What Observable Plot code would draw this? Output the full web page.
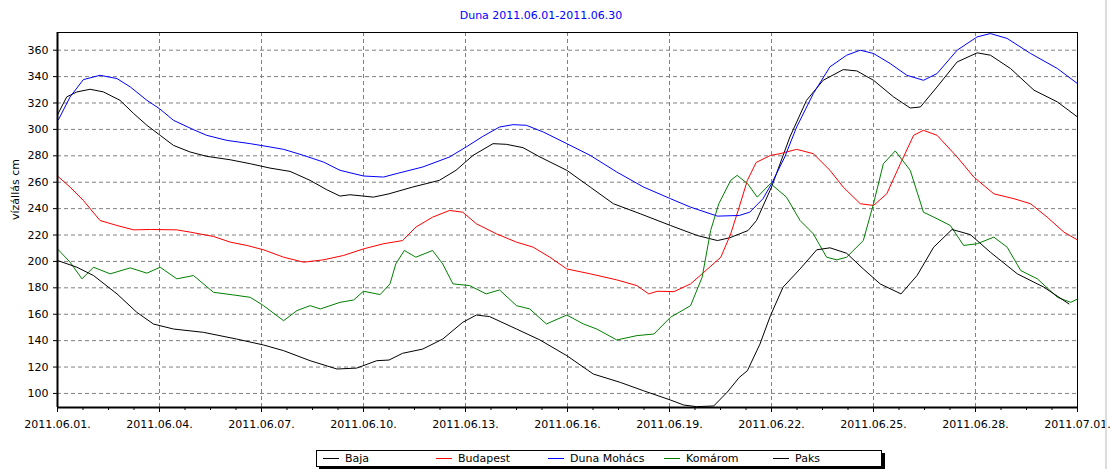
<!DOCTYPE html>
<html><head><meta charset="utf-8">
<script src="https://cdn.jsdelivr.net/npm/d3@7"></script>
<script src="https://cdn.jsdelivr.net/npm/@observablehq/plot@0.6"></script>
<style>
body{margin:0;background:#fff;font-family:"DejaVu Sans",sans-serif;font-size:11px;width:1111px;height:469px;overflow:hidden;position:relative}
#title{box-sizing:border-box;height:24px;width:1082px;padding-top:9px;line-height:13px;text-align:center;color:#0000ff}
#chart svg{display:block}
#legend{position:absolute;left:316px;top:450px;width:566px;height:17px;box-sizing:border-box;border:1px solid #000;box-shadow:3px 3px 0 #000;background:#fff}
.sw{position:absolute;top:7px;width:16px;height:0;border-top-width:1px;border-top-style:solid}
.lt{position:absolute;top:0;line-height:15px;color:#000;white-space:nowrap}
#edge{position:absolute;left:1105px;top:0;width:2px;height:469px;background:#dcdcdc}
</style></head><body>
<div id="title">Duna 2011.06.01-2011.06.30</div>
<div id="chart"></div>
<div id="legend"></div>
<div id="edge"></div>
<script>
// ---- data: [day offset from 2011-06-01 00:00, water level cm] ----
const seriesNames = ["Baja", "Budapest", "Duna Mohács", "Komárom", "Paks"];
const seriesColors = ["#000000", "#ff0000", "#0000ff", "#008000", "#000000"];

const baja = [[0,311],[0.27,324.6],[0.57,328.4],[0.96,330.4],[1.35,328.4],[1.84,322],[2.24,312],[2.63,303.1],[3.02,295.5],[3.41,287.9],[3.9,282.9],[4.39,279.6],[5.08,277],[5.67,274],[6.25,270.7],[6.84,268.2],[7.43,261.4],[7.92,254.3],[8.31,249.5],[8.6,250.5],[9.0,249.5],[9.29,248.7],[9.75,251.2],[10.44,256.3],[11.23,261.4],[11.72,269],[12.22,280.3],[12.81,289.2],[13.2,288.7],[13.69,286.2],[14.19,279.1],[14.98,269],[15.67,256.3],[16.35,243.7],[17.14,236.1],[18.03,227.2],[18.82,219.6],[19.41,215.8],[19.77,217.9],[20.31,223.4],[20.56,231],[21.0,256.3],[21.54,294.2],[22.03,322],[22.52,337.2],[23.11,345.3],[23.51,344.3],[24.0,337.2],[24.59,324.6],[25.08,316.2],[25.38,317],[25.87,332.2],[26.46,351.1],[27.05,358],[27.44,356.2],[28.03,346.1],[28.72,329.7],[29.41,320.8],[30.0,309.4]];

const budapest = [[0,264.7],[0.37,256.3],[0.76,246.2],[1.25,231],[1.75,227.2],[2.24,223.9],[2.73,224.2],[3.51,223.9],[3.9,222.2],[4.59,218.9],[5.08,214.6],[5.57,212.1],[6.06,208.8],[6.65,203.2],[7.24,199.4],[7.82,201.2],[8.41,204.5],[9.0,209.5],[9.59,213.4],[10.15,215.8],[10.54,226],[11.03,233.5],[11.53,238.6],[11.92,237.3],[12.32,228.5],[12.91,220.9],[13.5,214.6],[13.99,210.8],[14.48,203.2],[14.98,194.3],[15.67,190.6],[16.45,186],[17.04,181.7],[17.39,175.4],[17.64,177.4],[18.13,177.1],[18.62,183],[18.95,190.4],[19.51,203.2],[19.8,220.9],[20.05,241.1],[20.29,261.4],[20.55,275],[20.97,280.3],[21.25,281.6],[21.74,284.9],[22.23,281.6],[22.72,269],[23.11,256.3],[23.61,243.7],[24.0,242.4],[24.39,251.2],[24.79,274],[25.18,295.5],[25.47,299.3],[25.87,295.5],[26.46,279.1],[26.95,263.9],[27.54,251.2],[28.13,247.5],[28.62,243.7],[29.11,233.5],[29.6,222.2],[30.0,216.3]];

const mohacs = [[0.03,307.4],[0.37,324.6],[0.76,337.7],[1.25,341],[1.75,338.5],[2.14,332.2],[2.63,322],[3.0,315.7],[3.41,306.9],[4.0,299.8],[4.39,295.5],[4.98,291.7],[5.67,289.2],[6.25,286.7],[6.65,284.9],[7.24,280.3],[7.82,275.3],[8.31,269],[9.0,264.7],[9.59,263.9],[10.03,266.9],[10.74,271.5],[11.53,279.1],[12.02,286.7],[12.51,294.7],[13.0,301.8],[13.4,303.6],[13.79,303.1],[14.29,298],[14.98,289.2],[15.67,280.3],[16.45,267.7],[17.24,256.3],[18.03,247.5],[18.62,241.1],[19.41,234.3],[20.05,234.8],[20.36,237.3],[20.75,247.5],[21.0,258.8],[21.39,279.1],[21.74,301.8],[22.23,327.1],[22.72,347.4],[23.21,356.2],[23.61,360],[24.0,357.5],[24.49,349.9],[24.98,341],[25.47,337.2],[25.87,342.3],[26.46,360],[27.05,370.1],[27.44,372.6],[27.93,368.9],[28.62,357.5],[29.41,346.1],[30.0,334.7]];

const komarom = [[0,209.5],[0.37,199.4],[0.72,186.8],[1.06,195.6],[1.55,190.6],[2.14,195.1],[2.63,191.1],[3.02,195.6],[3.51,186.8],[4.0,189.3],[4.59,176.6],[5.18,174.6],[5.67,172.8],[6.06,166.5],[6.65,155.1],[7.04,162.7],[7.43,166.5],[7.73,164],[8.31,169],[8.71,170.8],[9.0,177.4],[9.49,174.9],[9.78,183],[9.95,198.1],[10.2,208.3],[10.54,203.2],[11.03,208.3],[11.33,198.1],[11.63,183],[12.12,181.7],[12.61,175.4],[13.0,178.4],[13.5,166.5],[13.89,164],[14.38,152.6],[14.98,159.4],[15.47,152.6],[15.86,148.8],[16.45,140.5],[17.04,143.8],[17.54,145],[18.03,157.7],[18.62,166.5],[18.96,188],[19.21,223.4],[19.45,243.7],[19.8,261.4],[19.99,265.2],[20.3,258.8],[20.58,248.7],[20.97,259],[21.44,248.7],[21.84,231],[22.23,220.9],[22.62,203.2],[22.92,201.2],[23.21,203.2],[23.7,215.8],[24.0,243.7],[24.29,274],[24.64,283.7],[25.08,269],[25.47,237.3],[25.87,232.3],[26.26,227.2],[26.65,212.1],[27.05,213.4],[27.54,218.4],[27.93,210.8],[28.33,193.1],[28.82,186.8],[29.41,172.8],[29.8,169],[30.0,171.5]];

const paks = [[0,200.7],[0.57,195.6],[1.06,189.3],[1.75,175.4],[2.33,161.5],[2.82,152.6],[3.41,148.8],[4.29,146.3],[5.27,141.2],[6.06,136.7],[6.65,132.4],[7.43,124.8],[8.22,118.5],[8.8,119.2],[9.39,124.8],[9.75,125.3],[10.15,130.4],[10.74,133.6],[11.33,141.2],[11.92,153.9],[12.32,159.4],[12.71,158.2],[13.5,148.8],[14.19,140.5],[14.98,128.6],[15.76,114.7],[16.55,108.4],[17.24,102],[18.03,95],[18.42,91.2],[18.8,90],[19.3,90.5],[19.7,101],[20.05,112.1],[20.29,117.2],[20.66,137.4],[20.97,159],[21.34,180.5],[21.84,194.3],[22.33,208.8],[22.72,210.3],[23.21,206.2],[23.7,194.3],[24.2,182.9],[24.81,175.4],[25.28,189.3],[25.77,210.8],[26.31,224.2],[26.85,220.3],[27.44,206.9],[28.23,190.6],[29.01,180.5],[29.75,167.8]];

const xTickDays = [0, 3, 6, 9, 12, 15, 18, 21, 24, 27, 30];
const yTicks = [100, 120, 140, 160, 180, 200, 220, 240, 260, 280, 300, 320, 340, 360];
const yLabel = "vízállás cm";
const yDomain = [89.35, 373.4];

// ---- build ----
const start = Date.UTC(2011, 5, 1);
const toDate = d => new Date(start + d * 864e5);
const seriesData = [baja, budapest, mohacs, komarom, paks];
const rows = seriesData.flatMap((pts, i) => pts.map(([d, v]) => ({name: seriesNames[i], date: toDate(d), value: v})));
const majorTicks = xTickDays.map(toDate);
const minorTicks = d3.range(0, 30.001, 0.75).map(toDate);
const grid = {stroke: "#808080", strokeOpacity: 1, strokeDasharray: "4,3", strokeWidth: 1};

const chart = Plot.plot({
  width: 1111, height: 416,
  marginTop: 8, marginBottom: 33, marginLeft: 57, marginRight: 34,
  style: {fontFamily: "DejaVu Sans", fontSize: "11px", color: "#000", background: "transparent", overflow: "visible"},
  x: {type: "utc", domain: [toDate(0), toDate(30)]},
  y: {domain: yDomain},
  color: {domain: seriesNames, range: seriesColors},
  marks: [
    Plot.gridX(majorTicks, grid),
    Plot.gridY(yTicks, grid),
    Plot.line(rows, {x: "date", y: "value", z: "name", stroke: "name", strokeWidth: 1, clip: true}),
    Plot.frame({stroke: "#000"}),
    Plot.axisX(minorTicks, {tickSize: 3, tickFormat: () => "", label: null}),
    Plot.axisX(majorTicks, {tickSize: 5, tickPadding: 8, tickFormat: d3.utcFormat("%Y.%m.%d."), label: null}),
    Plot.axisY(yTicks, {tickSize: 4, tickPadding: 5, label: null}),
    Plot.ruleX([toDate(0)], {stroke: "#000", strokeWidth: 2}),
    Plot.ruleY([yDomain[0]], {stroke: "#000", strokeWidth: 2}),
    Plot.text([yLabel], {frameAnchor: "left", dx: -42, rotate: -90, fill: "#000"})
  ]
});
document.getElementById("chart").appendChild(chart);

// ---- legend ----
const legendSwatchX = [6, 119, 231, 347, 456];
const legend = document.getElementById("legend");
seriesNames.forEach((n, i) => {
  const sw = document.createElement("div");
  sw.className = "sw";
  sw.style.left = legendSwatchX[i] + "px";
  sw.style.borderTopColor = seriesColors[i];
  legend.appendChild(sw);
  const t = document.createElement("div");
  t.className = "lt";
  t.style.left = (legendSwatchX[i] + 22) + "px";
  t.textContent = n;
  legend.appendChild(t);
});
</script></body></html>
